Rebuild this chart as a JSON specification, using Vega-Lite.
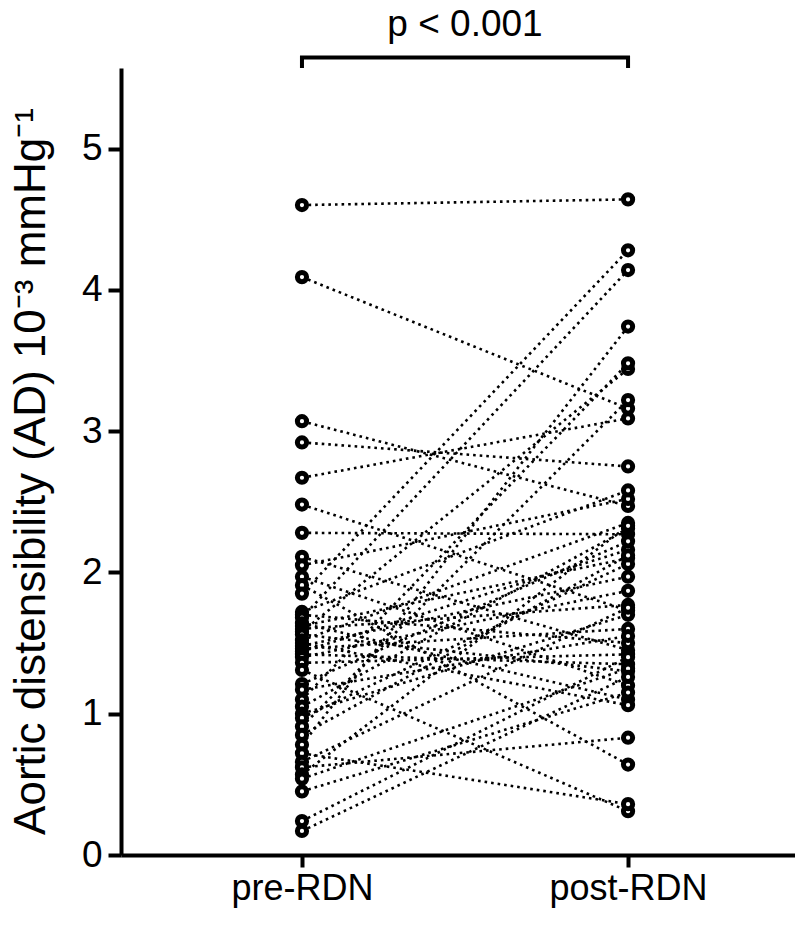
{
  "$schema": "https://vega.github.io/schema/vega-lite/v6.json",
  "width": 674,
  "height": 787,
  "autosize": {"type": "none"},
  "padding": {"left": 121, "top": 68, "right": 0, "bottom": 74},
  "background": "white",
  "config": {
    "view": {"stroke": null},
    "font": "Liberation Sans",
    "axis": {"grid": false, "domainColor": "black", "tickColor": "black", "labelColor": "black", "titleColor": "black", "domainWidth": 4, "tickWidth": 4, "labelFont": "Liberation Sans", "titleFont": "Liberation Sans", "titleFontWeight": "normal"}
  },
  "datasets": {
    "pairs": [
      {"id": 1, "phase": 1, "ad": 4.60}, {"id": 1, "phase": 2, "ad": 4.64},
      {"id": 2, "phase": 1, "ad": 4.09}, {"id": 2, "phase": 2, "ad": 3.16},
      {"id": 3, "phase": 1, "ad": 3.07}, {"id": 3, "phase": 2, "ad": 2.47},
      {"id": 4, "phase": 1, "ad": 2.92}, {"id": 4, "phase": 2, "ad": 2.75},
      {"id": 5, "phase": 1, "ad": 2.67}, {"id": 5, "phase": 2, "ad": 3.09},
      {"id": 6, "phase": 1, "ad": 2.48}, {"id": 6, "phase": 2, "ad": 1.73},
      {"id": 7, "phase": 1, "ad": 2.28}, {"id": 7, "phase": 2, "ad": 2.27},
      {"id": 8, "phase": 1, "ad": 2.11}, {"id": 8, "phase": 2, "ad": 1.45},
      {"id": 9, "phase": 1, "ad": 2.05}, {"id": 9, "phase": 2, "ad": 2.52},
      {"id": 10, "phase": 1, "ad": 1.97}, {"id": 10, "phase": 2, "ad": 1.20},
      {"id": 11, "phase": 1, "ad": 1.91}, {"id": 11, "phase": 2, "ad": 0.64},
      {"id": 12, "phase": 1, "ad": 1.85}, {"id": 12, "phase": 2, "ad": 4.28},
      {"id": 13, "phase": 1, "ad": 1.72}, {"id": 13, "phase": 2, "ad": 2.58},
      {"id": 14, "phase": 1, "ad": 1.70}, {"id": 14, "phase": 2, "ad": 1.50},
      {"id": 15, "phase": 1, "ad": 1.68}, {"id": 15, "phase": 2, "ad": 4.14},
      {"id": 16, "phase": 1, "ad": 1.64}, {"id": 16, "phase": 2, "ad": 1.10},
      {"id": 17, "phase": 1, "ad": 1.62}, {"id": 17, "phase": 2, "ad": 2.10},
      {"id": 18, "phase": 1, "ad": 1.60}, {"id": 18, "phase": 2, "ad": 1.77},
      {"id": 19, "phase": 1, "ad": 1.58}, {"id": 19, "phase": 2, "ad": 3.44},
      {"id": 20, "phase": 1, "ad": 1.56}, {"id": 20, "phase": 2, "ad": 1.30},
      {"id": 21, "phase": 1, "ad": 1.52}, {"id": 21, "phase": 2, "ad": 2.35},
      {"id": 22, "phase": 1, "ad": 1.50}, {"id": 22, "phase": 2, "ad": 1.06},
      {"id": 23, "phase": 1, "ad": 1.48}, {"id": 23, "phase": 2, "ad": 1.97},
      {"id": 24, "phase": 1, "ad": 1.46}, {"id": 24, "phase": 2, "ad": 1.60},
      {"id": 25, "phase": 1, "ad": 1.44}, {"id": 25, "phase": 2, "ad": 2.16},
      {"id": 26, "phase": 1, "ad": 1.42}, {"id": 26, "phase": 2, "ad": 1.35},
      {"id": 27, "phase": 1, "ad": 1.40}, {"id": 27, "phase": 2, "ad": 1.87},
      {"id": 28, "phase": 1, "ad": 1.36}, {"id": 28, "phase": 2, "ad": 1.42},
      {"id": 29, "phase": 1, "ad": 1.31}, {"id": 29, "phase": 2, "ad": 0.31},
      {"id": 30, "phase": 1, "ad": 1.21}, {"id": 30, "phase": 2, "ad": 2.22},
      {"id": 31, "phase": 1, "ad": 1.17}, {"id": 31, "phase": 2, "ad": 1.55},
      {"id": 32, "phase": 1, "ad": 1.10}, {"id": 32, "phase": 2, "ad": 3.48},
      {"id": 33, "phase": 1, "ad": 1.05}, {"id": 33, "phase": 2, "ad": 2.31},
      {"id": 34, "phase": 1, "ad": 1.00}, {"id": 34, "phase": 2, "ad": 1.70},
      {"id": 35, "phase": 1, "ad": 0.97}, {"id": 35, "phase": 2, "ad": 2.06},
      {"id": 36, "phase": 1, "ad": 0.91}, {"id": 36, "phase": 2, "ad": 3.22},
      {"id": 37, "phase": 1, "ad": 0.85}, {"id": 37, "phase": 2, "ad": 2.12},
      {"id": 38, "phase": 1, "ad": 0.78}, {"id": 38, "phase": 2, "ad": 3.74},
      {"id": 39, "phase": 1, "ad": 0.72}, {"id": 39, "phase": 2, "ad": 0.36},
      {"id": 40, "phase": 1, "ad": 0.66}, {"id": 40, "phase": 2, "ad": 1.75},
      {"id": 41, "phase": 1, "ad": 0.62}, {"id": 41, "phase": 2, "ad": 0.83},
      {"id": 42, "phase": 1, "ad": 0.57}, {"id": 42, "phase": 2, "ad": 2.33},
      {"id": 43, "phase": 1, "ad": 0.54}, {"id": 43, "phase": 2, "ad": 1.32},
      {"id": 44, "phase": 1, "ad": 0.45}, {"id": 44, "phase": 2, "ad": 1.15},
      {"id": 45, "phase": 1, "ad": 0.24}, {"id": 45, "phase": 2, "ad": 1.40},
      {"id": 46, "phase": 1, "ad": 0.17}, {"id": 46, "phase": 2, "ad": 1.26}
    ],
    "bracket": [
      {"k": 0, "bx": 1, "by": 5.57},
      {"k": 1, "bx": 1, "by": 5.645},
      {"k": 2, "bx": 2, "by": 5.645},
      {"k": 3, "bx": 2, "by": 5.57}
    ],
    "note": [
      {"tx": 1.5, "ty": 5.8, "label": "p < 0.001"}
    ]
  },
  "layer": [
    {
      "data": {"name": "pairs"},
      "mark": {"type": "line", "color": "black", "strokeWidth": 2.6, "strokeDash": [2.6, 4]},
      "encoding": {
        "x": {"field": "phase", "type": "quantitative", "scale": {"domain": [0.445, 2.512], "nice": false, "zero": false},
          "axis": {"values": [1, 2], "title": null, "tickSize": 12, "labelPadding": 4, "labelFontSize": 36, "labelExpr": "datum.value == 1 ? 'pre-RDN' : 'post-RDN'"}},
        "y": {"field": "ad", "type": "quantitative", "scale": {"domain": [0, 5.57], "nice": false, "zero": true},
          "axis": {"values": [0, 1, 2, 3, 4, 5], "format": "d", "title": "Aortic distensibility (AD) 10⁻³ mmHg⁻¹", "titleFontSize": 44, "titleX": -77, "titleY": 403, "titleAngle": 270, "titleBaseline": "alphabetic", "titleAlign": "center", "tickSize": 13, "labelPadding": 6, "labelFontSize": 37}},
        "detail": {"field": "id"}
      }
    },
    {
      "data": {"name": "pairs"},
      "mark": {"type": "point", "shape": "circle", "filled": false, "fill": "white", "fillOpacity": 1, "stroke": "black", "strokeWidth": 5, "size": 85, "opacity": 1},
      "encoding": {
        "x": {"field": "phase", "type": "quantitative"},
        "y": {"field": "ad", "type": "quantitative"}
      }
    },
    {
      "data": {"name": "bracket"},
      "mark": {"type": "line", "color": "black", "strokeWidth": 4, "strokeCap": "butt", "strokeJoin": "miter", "clip": false},
      "encoding": {
        "x": {"field": "bx", "type": "quantitative"},
        "y": {"field": "by", "type": "quantitative"},
        "order": {"field": "k"}
      }
    },
    {
      "data": {"name": "note"},
      "mark": {"type": "text", "fontSize": 37, "font": "Liberation Sans", "color": "black", "baseline": "alphabetic", "align": "center", "clip": false},
      "encoding": {
        "x": {"field": "tx", "type": "quantitative"},
        "y": {"field": "ty", "type": "quantitative"},
        "text": {"field": "label"}
      }
    }
  ]
}
